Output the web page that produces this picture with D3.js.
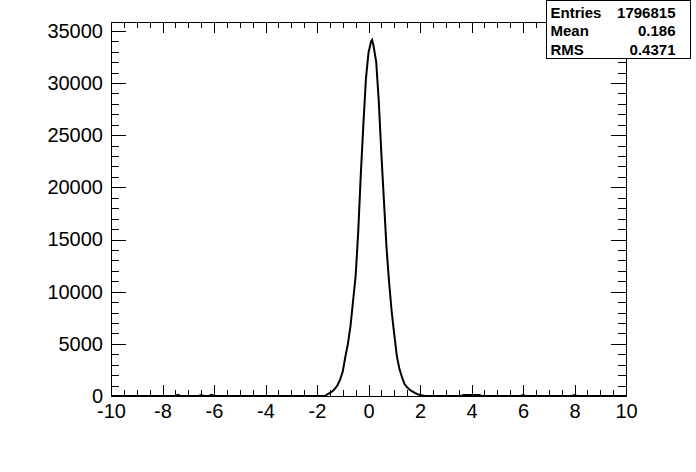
<!DOCTYPE html>
<html>
<head>
<meta charset="utf-8">
<script src="https://cdn.jsdelivr.net/npm/d3@7"></script>
<style>
  body { margin: 0; background: #fff; }
  svg { display: block; }
  text { font-family: "Liberation Sans", Arial, Helvetica, sans-serif; }
</style>
</head>
<body>
<svg class="chart"></svg>
<script>
// bin centres and contents
var binX = [-10, -7.5, -7.4, -7.3, -6.6, -6.5, -6.4, -6.2, -6.1, -6.0, -1.7,
    -1.6, -1.5, -1.4, -1.3, -1.2, -1.1, -1.0, -0.9, -0.8, -0.7, -0.6, -0.5,
    -0.4, -0.3, -0.2, -0.1, 0.0, 0.1, 0.14, 0.2, 0.3, 0.4, 0.5, 0.6, 0.7,
    0.8, 0.9, 1.0, 1.1, 1.2, 1.3, 1.4, 1.5, 1.6, 1.7, 1.8, 1.9, 2.0, 2.1,
    2.2, 3.6, 3.7, 4.3, 4.4, 5.9, 6.0, 6.1, 7.9, 8.0, 8.1, 10];
var binCounts = [0, 0, 110, 0, 0, 90, 0, 0, 110, 0, 0,
    150, 300, 450, 700, 1050, 1600, 2350, 3750, 5000, 6700, 9100, 11500,
    15700, 21200, 26000, 30400, 32900, 34000, 34140, 33500, 32000, 28200, 23200, 18700, 14200,
    10900, 8100, 5900, 3850, 2600, 1800, 1150, 830, 600, 450, 300, 180, 100, 50,
    0, 0, 90, 90, 0, 0, 100, 0, 0, 90, 0, 0];

var xMajor = [-10, -8, -6, -4, -2, 0, 2, 4, 6, 8, 10];
var yMajor = [0, 5000, 10000, 15000, 20000, 25000, 30000, 35000];
var xMinorStep = 0.5;
var yMinorStep = 1000;

var statNames = ["Entries", "Mean", "RMS"];
var statValues = ["1796815", "0.186", "0.4371"];

(function show() {
    'use strict';
    var W = 696, H = 472;
    var margin = {top: 22, bottom: 76, right: 70, left: 111},
        width = W - margin.left - margin.right,
        height = H - margin.top - margin.bottom;

    var root = d3.select(".chart").attr("width", W).attr("height", H);
    root.append("rect").attr("width", W).attr("height", H).attr("fill", "#fff");

    var svg = root.append("g")
        .attr("transform", "translate(" + margin.left + "," + margin.top + ")");

    var x = d3.scaleLinear().domain([-10, 10]).range([0, width]);
    var y = d3.scaleLinear().domain([0, 35850]).range([height, 0]);

    var xMinor = d3.range(-10, 10.001, xMinorStep);
    var yMinor = d3.range(0, 35850, yMinorStep);

    var xTickL = 0.03 * height, yTickL = 0.03 * width;
    var plain = function(d) { return String(d); };   // keep ASCII hyphen like ROOT

    function tidy(g) {
        g.select(".domain").remove();
        g.selectAll("line").attr("stroke", "#000").attr("shape-rendering", "crispEdges");
        g.selectAll("text").attr("fill", "#000").style("font-size", "20px");
    }

    // minor ticks, all four sides
    svg.append("g").attr("transform", "translate(0," + height + ")")
        .call(d3.axisBottom(x).tickValues(xMinor).tickSize(-xTickL / 2).tickFormat(""))
        .call(tidy);
    svg.append("g")
        .call(d3.axisTop(x).tickValues(xMinor).tickSize(-xTickL / 2).tickFormat(""))
        .call(tidy);
    svg.append("g")
        .call(d3.axisLeft(y).tickValues(yMinor).tickSize(-yTickL / 2).tickFormat(""))
        .call(tidy);
    svg.append("g").attr("transform", "translate(" + width + ",0)")
        .call(d3.axisRight(y).tickValues(yMinor).tickSize(-yTickL / 2).tickFormat(""))
        .call(tidy);

    // major ticks
    svg.append("g").attr("transform", "translate(0," + height + ")")
        .call(d3.axisBottom(x).tickValues(xMajor).tickSize(-xTickL).tickPadding(8).tickFormat(plain))
        .call(tidy);
    svg.append("g")
        .call(d3.axisTop(x).tickValues(xMajor).tickSize(-xTickL).tickFormat(""))
        .call(tidy);
    svg.append("g")
        .call(d3.axisLeft(y).tickValues(yMajor).tickSize(-yTickL).tickPadding(8).tickFormat(plain))
        .call(tidy);
    svg.append("g").attr("transform", "translate(" + width + ",0)")
        .call(d3.axisRight(y).tickValues(yMajor).tickSize(-yTickL).tickFormat(""))
        .call(tidy);

    // frame
    svg.append("rect")
        .attr("x", 0).attr("y", 0)
        .attr("width", width).attr("height", height)
        .attr("fill", "none").attr("stroke", "#000")
        .attr("shape-rendering", "crispEdges");

    // histogram outline
    var line = d3.line()
        .x(function(d, i) { return x(binX[i]); })
        .y(function(d) { return y(d); });

    svg.append("path")
        .datum(binCounts)
        .attr("d", line)
        .attr("fill", "none")
        .attr("stroke", "#000")
        .attr("stroke-width", 2)
        .attr("stroke-linejoin", "miter");

    // stats box
    var box = root.append("g").attr("transform", "translate(546.5,0.5)");
    box.append("rect")
        .attr("width", 144).attr("height", 58)
        .attr("fill", "#fff").attr("stroke", "#000");
    statNames.forEach(function(name, i) {
        box.append("text")
            .attr("x", 4).attr("y", 17 + i * 18.7)
            .style("font-size", "15px").style("font-weight", "bold")
            .text(name);
        box.append("text")
            .attr("x", 129).attr("y", 17 + i * 18.7)
            .attr("text-anchor", "end")
            .style("font-size", "15px").style("font-weight", "bold")
            .text(statValues[i]);
    });
})();
</script>
</body>
</html>
